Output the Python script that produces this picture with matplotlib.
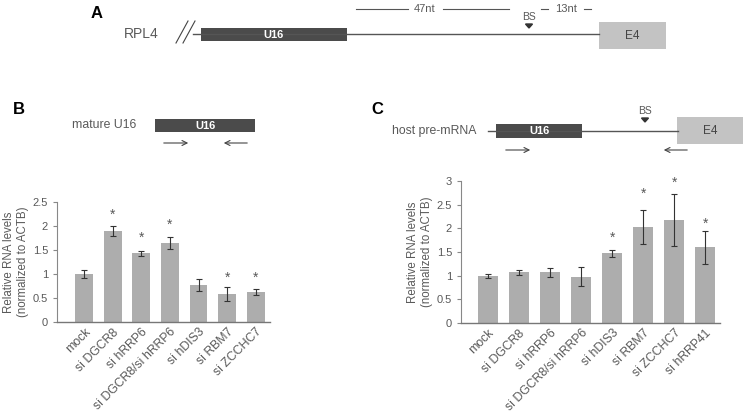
import numpy as np
import matplotlib.pyplot as plt
from matplotlib.patches import Rectangle, Polygon

plt.rcParams['font.family'] = ['Liberation Sans', 'DejaVu Sans']

# Panel B data: mature U16
b_labels = ['mock', 'si DGCR8', 'si hRRP6', 'si DGCR8/si hRRP6', 'si hDIS3', 'si RBM7', 'si ZCCHC7']
b_values = [1.0, 1.9, 1.43, 1.65, 0.77, 0.58, 0.63]
b_errors = [0.08, 0.11, 0.05, 0.12, 0.13, 0.14, 0.06]
b_stars = [None, 2.23, 1.75, 2.02, None, 0.92, 0.92]

# Panel C data: host pre-mRNA
c_labels = ['mock', 'si DGCR8', 'si hRRP6', 'si DGCR8/si hRRP6', 'si hDIS3', 'si RBM7', 'si ZCCHC7', 'si hRRP41']
c_values = [1.0, 1.07, 1.07, 0.98, 1.47, 2.03, 2.17, 1.6]
c_errors = [0.04, 0.05, 0.1, 0.2, 0.07, 0.36, 0.55, 0.35]
c_stars = [None, None, None, None, 1.8, 2.72, 2.96, 2.1]

W, H = 745, 418
fig = plt.figure(figsize=(W / 100, H / 100), dpi=100)

BAR = '#adadad'
TXT = '#595959'
DARK = '#4b4b4b'
LIGHT = '#c3c3c3'

# overlay for gene diagrams, in pixel coordinates
ov = fig.add_axes([0, 0, 1, 1])
ov.set_xlim(0, W)
ov.set_ylim(H, 0)
ov.axis('off')


def box(x0, x1, y0, y1, color, label, fs=8):
    ov.add_patch(Rectangle((x0, y0), x1 - x0, y1 - y0, color=color, lw=0))
    ov.text((x0 + x1) / 2, (y0 + y1) / 2 + 0.5, label, color='white' if color == DARK else '#444444',
            ha='center', va='center', fontsize=fs, fontweight='bold' if color == DARK else 'normal')


def arrow(x0, x1, y):
    ov.annotate('', xy=(x1, y), xytext=(x0, y),
                arrowprops=dict(arrowstyle='->', color='#444444', lw=0.8, mutation_scale=9))


def bs(x, y):
    ov.text(x, y, 'BS', ha='center', va='center', fontsize=7.5, color=TXT)
    ov.add_patch(Polygon([[x - 3.5, y + 7], [x + 3.5, y + 7], [x, y + 11]], closed=True, color='#333333'))


# Panel A
ov.text(91, 13, 'A', fontsize=12, fontweight='bold', va='center')
ov.text(124, 34, 'RPL4', fontsize=10, color=TXT, va='center')
ov.plot([176, 188], [43, 21], color='#444444', lw=0.8)
ov.plot([183, 195], [43, 21], color='#444444', lw=0.8)
ov.plot([193, 599], [34, 34], color='#555555', lw=1.0)
box(201, 347, 28, 41, DARK, 'U16')
box(599, 666, 22, 49, LIGHT, 'E4', fs=8.5)
bs(529, 17)
ov.plot([356, 408], [9, 9], color='#555555', lw=0.8)
ov.plot([443, 509], [9, 9], color='#555555', lw=0.8)
ov.text(425, 9, '47nt', fontsize=8, color=TXT, ha='center', va='center')
ov.plot([541, 548], [9, 9], color='#555555', lw=0.8)
ov.plot([584, 591], [9, 9], color='#555555', lw=0.8)
ov.text(566, 9, '13nt', fontsize=8, color=TXT, ha='center', va='center')

# Panel B diagram
ov.text(13, 110, 'B', fontsize=12, fontweight='bold', va='center')
ov.text(72, 125, 'mature U16', fontsize=8.8, color=TXT, va='center')
box(155, 255, 119, 132, DARK, 'U16')
arrow(161, 191, 143)
arrow(250, 221, 143)

# Panel C diagram
ov.text(371, 110, 'C', fontsize=12, fontweight='bold', va='center')
ov.text(392, 131, 'host pre-mRNA', fontsize=8.8, color=TXT, va='center')
ov.plot([488, 678], [131, 131], color='#555555', lw=1.0)
box(496, 582, 124, 138, DARK, 'U16')
box(677, 743, 117, 144, LIGHT, 'E4', fs=8.5)
bs(645, 111)
arrow(503, 533, 150)
arrow(690, 661, 150)


def bar_panel(rect, labels, values, errors, stars, ylim, ticks, xlim):
    ax = fig.add_axes(rect)
    x = np.arange(len(labels))
    ax.bar(x, values, width=0.62, color=BAR, yerr=errors,
           error_kw=dict(ecolor='#333333', elinewidth=0.8, capsize=2.5, capthick=0.8))
    for xi, s in zip(x, stars):
        if s is not None:
            ax.text(xi, s, '*', ha='center', va='center', fontsize=10, color=TXT)
    ax.set_ylim(*ylim)
    ax.set_xlim(*xlim)
    ax.set_yticks(ticks)
    ax.set_yticklabels([f'{t:g}' for t in ticks])
    ax.set_xticks(x)
    ax.set_xticklabels(labels, rotation=45, ha='right', rotation_mode='anchor')
    ax.tick_params(axis='x', length=0, labelsize=8.8, labelcolor=TXT, pad=3)
    ax.tick_params(axis='y', length=3, labelsize=8, labelcolor=TXT, color='#888888', width=0.8)
    for side in ['top', 'right']:
        ax.spines[side].set_visible(False)
    ax.spines['left'].set_color('#888888')
    ax.spines['bottom'].set_color('#777777')
    ax.spines['left'].set_linewidth(0.8)
    ax.spines['bottom'].set_linewidth(1.0)
    ax.set_ylabel('Relative RNA levels\n(normalized to ACTB)', fontsize=8.3, color=TXT, labelpad=2.5)
    return ax


bar_panel([57 / W, 1 - 322 / H, 213 / W, 120 / H], b_labels, b_values, b_errors, b_stars,
          (0, 2.5), [0, 0.5, 1, 1.5, 2, 2.5], (-0.95, 6.5))
bar_panel([461 / W, 1 - 323 / H, 259 / W, 142 / H], c_labels, c_values, c_errors, c_stars,
          (0, 3), [0, 0.5, 1, 1.5, 2, 2.5, 3], (-0.87, 7.48))

fig.savefig('out.png', dpi=100)
